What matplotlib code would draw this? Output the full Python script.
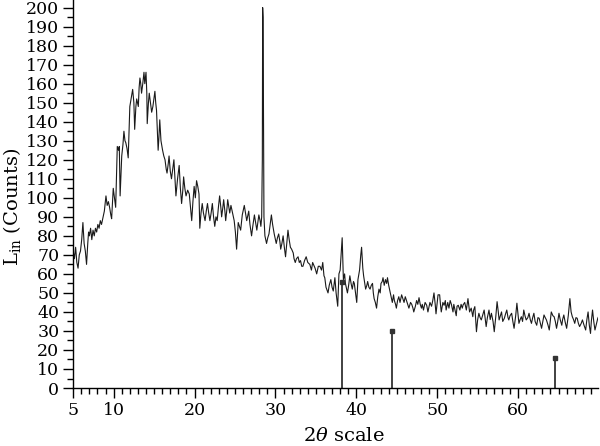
import numpy as np
import matplotlib
matplotlib.use('Agg')
import matplotlib.pyplot as plt
from matplotlib.ticker import MultipleLocator, FixedLocator

plt.rcParams['font.family'] = ['DejaVu Serif']
plt.rcParams['mathtext.fontset'] = 'dejavuserif'

# XRD scan (2theta, counts)
two_theta = [
    5.0, 5.15, 5.3, 5.45, 5.6, 5.75, 5.9, 6.05, 6.2, 6.35, 6.5, 6.65, 6.8, 6.9, 7.0, 7.15, 7.3, 7.45, 7.6, 7.75,
    7.9, 8.05, 8.2, 8.35, 8.5, 8.7, 8.85, 9.05, 9.2, 9.35, 9.5, 9.65, 9.75, 9.85, 9.95, 10.1, 10.25, 10.35, 10.45, 10.6,
    10.7, 10.8, 10.9, 11.0, 11.15, 11.27, 11.4, 11.5, 11.65, 11.8, 11.9, 12.0, 12.15, 12.35, 12.5, 12.6, 12.75, 12.85, 12.95, 13.05,
    13.15, 13.25, 13.35, 13.45, 13.6, 13.75, 13.85, 14.0, 14.1, 14.15, 14.3, 14.4, 14.55, 14.7, 14.85, 15.0, 15.1, 15.2, 15.3, 15.4,
    15.5, 15.6, 15.7, 15.85, 16.05, 16.2, 16.35, 16.5, 16.6, 16.75, 16.85, 17.0, 17.15, 17.3, 17.45, 17.6, 17.7, 17.9, 18.1, 18.25,
    18.4, 18.55, 18.65, 18.8, 18.95, 19.15, 19.35, 19.5, 19.65, 19.8, 19.95, 20.1, 20.25, 20.4, 20.55, 20.65, 20.8, 20.95, 21.1, 21.3,
    21.45, 21.6, 21.75, 21.9, 22.05, 22.2, 22.35, 22.5, 22.65, 22.8, 22.95, 23.1, 23.25, 23.35, 23.5, 23.6, 23.75, 23.85, 24.0, 24.1,
    24.25, 24.35, 24.5, 24.65, 24.8, 24.9, 25.05, 25.2, 25.3, 25.4, 25.55, 25.7, 25.8, 25.9, 26.05, 26.15, 26.3, 26.45, 26.6, 26.7,
    26.85, 27.05, 27.2, 27.4, 27.55, 27.7, 27.85, 27.95, 28.1, 28.2, 28.3, 28.38, 28.42, 28.47, 28.52, 28.58, 28.7, 28.8, 28.9, 29.05,
    29.2, 29.35, 29.5, 29.65, 29.85, 29.95, 30.1, 30.25, 30.4, 30.55, 30.65, 30.8, 30.95, 31.1, 31.25, 31.4, 31.55, 31.7, 31.85, 32.0,
    32.2, 32.3, 32.45, 32.6, 32.8, 32.95, 33.1, 33.25, 33.4, 33.6, 33.8, 34.0, 34.25, 34.45, 34.6, 34.9, 35.1, 35.3, 35.5, 35.7,
    35.85, 36.0, 36.1, 36.25, 36.5, 36.65, 36.85, 37.0, 37.15, 37.35, 37.5, 37.7, 37.85, 38.0, 38.1, 38.25, 38.4, 38.55, 38.65, 38.8,
    38.9, 39.05, 39.2, 39.35, 39.5, 39.65, 39.75, 39.9, 40.05, 40.2, 40.4, 40.55, 40.65, 40.8, 40.9, 41.05, 41.15, 41.3, 41.4, 41.55,
    41.7, 41.85, 42.0, 42.1, 42.2, 42.35, 42.5, 42.65, 42.8, 42.95, 43.05, 43.2, 43.3, 43.45, 43.6, 43.75, 43.85, 44.0, 44.1, 44.3,
    44.45, 44.6, 44.7, 44.85, 44.95, 45.1, 45.25, 45.4, 45.6, 45.75, 45.9, 46.05, 46.2, 46.35, 46.5, 46.7, 46.85, 47.0, 47.1, 47.3,
    47.45, 47.6, 47.75, 47.9, 48.05, 48.15, 48.3, 48.5, 48.7, 48.85, 48.95, 49.1, 49.3, 49.45, 49.6, 49.75, 49.85, 50.0, 50.1, 50.3,
    50.4, 50.5, 50.7, 50.85, 51.0, 51.1, 51.3, 51.45, 51.6, 51.75, 51.95, 52.05, 52.2, 52.35, 52.45, 52.6, 52.8, 52.95, 53.1, 53.2,
    53.4, 53.6, 53.8, 54.0, 54.2, 54.4, 54.5, 54.65, 54.85, 55.0, 55.15, 55.3, 55.45, 55.6, 55.8, 55.95, 56.05, 56.2, 56.4, 56.55,
    56.7, 56.9, 57.05, 57.25, 57.4, 57.55, 57.65, 57.8, 57.95, 58.1, 58.3, 58.45, 58.6, 58.75, 58.85, 59.0, 59.2, 59.35, 59.5, 59.7,
    59.85, 60.0, 60.1, 60.25, 60.4, 60.55, 60.7, 60.85, 61.0, 61.2, 61.35, 61.5, 61.65, 61.8, 61.95, 62.1, 62.3, 62.45, 62.6, 62.75,
    62.9, 63.05, 63.2, 63.35, 63.5, 63.7, 63.85, 64.0, 64.1, 64.3, 64.45, 64.6, 64.75, 64.9, 65.05, 65.2, 65.4, 65.5, 65.65, 65.8,
    66.0, 66.2, 66.4, 66.55, 66.7, 66.85, 67.0, 67.15, 67.3, 67.45, 67.6, 67.8, 67.95, 68.15, 68.35, 68.5, 68.65, 68.8, 68.95, 69.05,
    69.2, 69.35, 69.5, 69.7, 69.85, 70.0,
]
counts = [
    72, 68, 74, 66, 63, 70, 72, 78, 87, 76, 72, 65, 76, 82, 80, 84, 78, 83, 80, 84,
    82, 86, 84, 88, 86, 90, 93, 101, 96, 98, 95, 91, 89, 97, 105, 100, 95, 110, 127, 125,
    127, 101, 112, 122, 128, 135, 130, 129, 126, 121, 135, 148, 152, 157, 150, 136, 148, 152, 150, 148,
    158, 163, 160, 155, 160, 166, 160, 166, 155, 139, 150, 155, 150, 145, 148, 153, 156, 150, 146, 135,
    125, 132, 141, 130, 125, 122, 120, 115, 113, 118, 122, 114, 110, 115, 120, 108, 101, 110, 117, 105,
    97, 104, 111, 105, 101, 104, 102, 95, 88, 98, 106, 100, 109, 106, 102, 84, 92, 97, 92, 88,
    93, 97, 92, 88, 92, 97, 90, 85, 90, 88, 95, 101, 95, 90, 95, 99, 93, 88, 94, 99,
    95, 92, 96, 93, 90, 88, 82, 73, 80, 87, 85, 83, 87, 91, 94, 96, 92, 88, 91, 93,
    86, 80, 85, 91, 87, 83, 88, 91, 88, 85, 90, 120, 200, 195, 150, 90, 80, 78, 76, 79,
    81, 86, 91, 86, 81, 79, 76, 79, 81, 77, 73, 76, 80, 74, 69, 76, 83, 78, 74, 73,
    71, 68, 66, 68, 69, 66, 67, 64, 64, 67, 69, 66, 65, 62, 66, 63, 60, 64, 64, 62,
    66, 59, 58, 53, 50, 54, 57, 53, 51, 58, 50, 43, 60, 62, 69, 79, 57, 60, 55, 52,
    50, 54, 59, 55, 52, 56, 55, 50, 45, 57, 62, 70, 74, 63, 59, 55, 52, 54, 56, 53,
    52, 54, 55, 50, 47, 45, 42, 48, 52, 50, 55, 56, 58, 54, 57, 55, 58, 54, 52, 48,
    45, 49, 46, 44, 42, 46, 48, 45, 49, 47, 45, 48, 46, 44, 42, 45, 44, 42, 40, 43,
    46, 44, 47.5, 44, 42, 44, 41, 45, 43.5, 40, 42, 45, 43, 46, 50, 44, 39, 45, 49, 49,
    44, 40, 45, 43.5, 46, 41, 45, 42, 46, 44, 40, 44, 41, 38, 43, 43.5, 41, 44, 42, 43.7,
    45, 41, 47, 40, 42, 37.5, 41, 42.8, 29.6, 36, 39.3, 37, 35.8, 38, 41, 36, 32.3, 37, 41, 36,
    39.3, 35, 29.6, 38, 45.4, 40, 35.8, 38, 40, 35, 36.7, 39, 41, 37, 35.8, 38, 39.3, 35, 31.4, 38,
    44.6, 38, 34, 36, 37.5, 35, 41, 38, 35.8, 37, 39.3, 36, 34, 37, 39.3, 35, 33, 37, 36.7, 34,
    31.4, 35, 38.4, 37, 35.8, 33, 30.5, 36, 40, 38, 37.5, 35, 31.4, 35, 39.3, 36, 33, 36, 38.4, 35,
    31.4, 38, 47, 40, 37.5, 36, 34, 37, 36.7, 34, 32.3, 34, 35.8, 33, 30.5, 36, 40, 33, 28.7, 35,
    41, 35, 30.5, 34, 36.7, 38,
]

# reference pattern sticks
ref_pos = [38.2, 44.4, 64.5]
ref_int = [56, 30, 16]

fig = plt.figure(figsize=(6, 4.46), dpi=100)
ax = fig.add_axes([0.122, 0.130, 0.875, 0.870])

ax.plot(two_theta, counts, color='#1a1a1a', lw=0.8)
ax.vlines(ref_pos, 0, ref_int, color='#333333', lw=1.3)
ax.plot(ref_pos, ref_int, 's', color='#333333', ms=2.5)

ax.set_xlim(5, 69.9)
ax.set_ylim(0, 204)

ax.xaxis.set_major_locator(FixedLocator([5, 10, 20, 30, 40, 50, 60]))
ax.xaxis.set_minor_locator(MultipleLocator(1))
ax.yaxis.set_major_locator(FixedLocator(np.arange(0, 201, 10)))
ax.yaxis.set_minor_locator(MultipleLocator(5))
ax.tick_params(which='major', direction='out', length=7, width=1, labelsize=12.5, pad=3)
ax.tick_params(which='minor', direction='out', length=4.5, width=1)

for s in ['top', 'right']:
    ax.spines[s].set_visible(False)
for s in ['left', 'bottom']:
    ax.spines[s].set_linewidth(1.0)

ax.set_ylabel(r'L$_{\mathrm{in}}$ (Counts)', fontsize=14, labelpad=1)
ax.yaxis.set_label_coords(-0.095, 0.466)
ax.set_xlabel(r'2$\mathit{\theta}$ scale', fontsize=14, labelpad=6)
ax.xaxis.set_label_coords(0.516, -0.1)

plt.savefig('out.png', dpi=100)
